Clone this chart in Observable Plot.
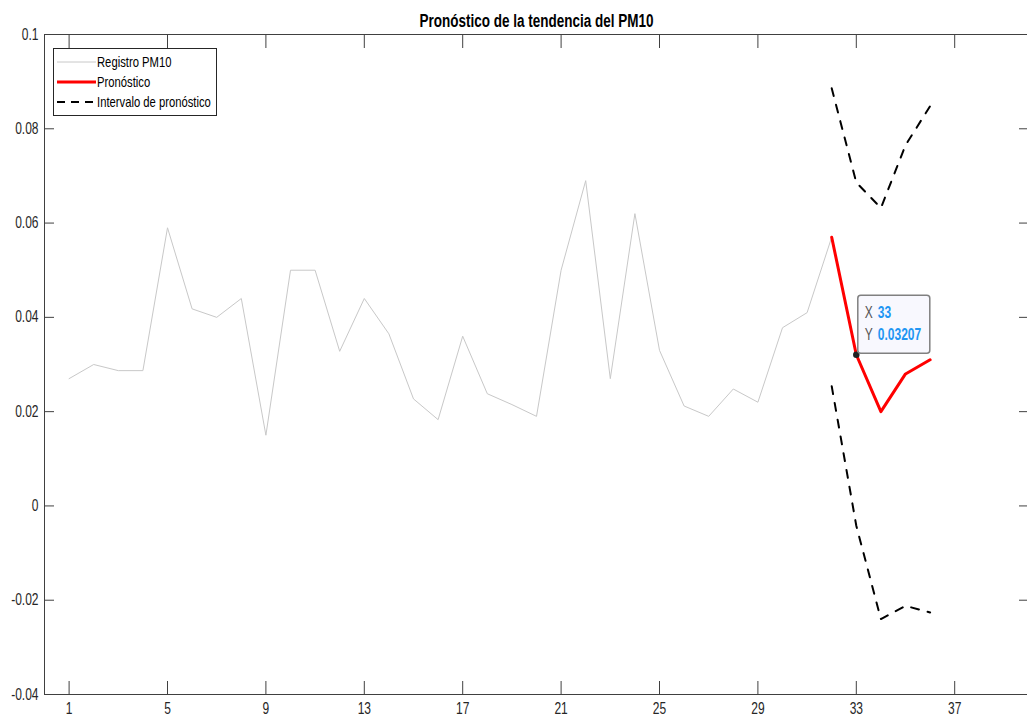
<!DOCTYPE html>
<html>
<head>
<meta charset="utf-8">
<script src="https://cdn.jsdelivr.net/npm/d3@7"></script>
<script src="https://cdn.jsdelivr.net/npm/@observablehq/plot@0.6"></script>
<style>
  html, body { margin: 0; padding: 0; background: #fff; }
  #chart { position: relative; width: 1027px; height: 720px; overflow: hidden; }
</style>
</head>
<body>
<div id="chart"></div>
<script>
const FONT = '"Liberation Sans", Arial, sans-serif';
const SQUEEZE = 0.75; // the reference text is horizontally condensed

const title = "Pronóstico de la tendencia del PM10";
const seriesNames = ["Registro PM10", "Pronóstico", "Intervalo de pronóstico"];

const xTicks = [1, 5, 9, 13, 17, 21, 25, 29, 33, 37];
const yTicks = [-0.04, -0.02, 0, 0.02, 0.04, 0.06, 0.08, 0.1];
const yTickLabels = ["-0.04", "-0.02", "0", "0.02", "0.04", "0.06", "0.08", "0.1"];

// Registro PM10, x = 1..32
const registroX = [1,2,3,4,5,6,7,8,9,10,11,12,13,14,15,16,17,18,19,20,21,22,23,24,25,26,27,28,29,30,31,32];
const registro = [0.0270, 0.0300, 0.0287, 0.0287, 0.0590, 0.0418, 0.0400, 0.0440, 0.0150, 0.0500,
                  0.0500, 0.0328, 0.0440, 0.0365, 0.0227, 0.0183, 0.0360, 0.0238, 0.0215, 0.0190,
                  0.0500, 0.0690, 0.0270, 0.0620, 0.0330, 0.0212, 0.0190, 0.0248, 0.0220, 0.0378,
                  0.0410, 0.0570];

// Pronóstico and interval, x = 32..36
const pronosticoX = [32, 33, 34, 35, 36];
const pronostico = [0.0570, 0.03207, 0.0200, 0.0280, 0.0310];
const superior = [0.0886, 0.0686, 0.0632, 0.0765, 0.0848];
const inferior = [0.0254, -0.0042, -0.0240, -0.0212, -0.0226];

// data tip
const tipX = 33;
const tipY = 0.03207;
const tipLabels = ["X", "Y"];

const regData = registroX.map((x, i) => ({x, y: registro[i]}));
const proData = pronosticoX.map((x, i) => ({x, y: pronostico[i]}));
const supData = pronosticoX.map((x, i) => ({x, y: superior[i]}));
const infData = pronosticoX.map((x, i) => ({x, y: inferior[i]}));

const yLabel = d => {
  const i = yTicks.findIndex(t => Math.abs(t - d) < 1e-9);
  return i >= 0 ? yTickLabels[i] : "";
};

const AX = "#404040";
const TXT = "#262626";

const plot = Plot.plot({
  width: 1027,
  height: 720,
  marginLeft: 44,
  marginRight: -1,
  marginTop: 34,
  marginBottom: 26,
  x: {domain: [0, 40]},
  y: {domain: [-0.04, 0.1]},
  style: {fontFamily: FONT, fontSize: "16px", color: TXT, background: "white", overflow: "visible"},
  marks: [
    Plot.frame({stroke: AX, strokeWidth: 1}),
    Plot.axisX({anchor: "bottom", ticks: xTicks, tickSize: -13, tickFormat: () => "", stroke: AX, label: null}),
    Plot.axisX({anchor: "top", ticks: xTicks, tickSize: -13, tickFormat: () => "", stroke: AX, label: null}),
    Plot.axisX({anchor: "bottom", ticks: xTicks, tickSize: 0, tickPadding: 8, tickFormat: d => String(d), fill: TXT, label: null}),
    Plot.axisY({anchor: "left", ticks: yTicks, tickSize: -10, tickFormat: () => "", stroke: AX, label: null}),
    Plot.axisY({anchor: "right", ticks: yTicks, tickSize: -10, tickFormat: () => "", stroke: AX, label: null}),
    Plot.axisY({anchor: "left", ticks: yTicks, tickSize: 0, tickPadding: 6, tickFormat: yLabel, fill: TXT, label: null}),
    Plot.line(regData, {x: "x", y: "y", stroke: "#c8c8c8", strokeWidth: 1}),
    Plot.line(supData, {x: "x", y: "y", stroke: "#000", strokeWidth: 2, strokeDasharray: "8,9"}),
    Plot.line(infData, {x: "x", y: "y", stroke: "#000", strokeWidth: 2, strokeDasharray: "8,9"}),
    Plot.line(proData, {x: "x", y: "y", stroke: "#ff0000", strokeWidth: 3}),
    Plot.dot([{x: tipX, y: tipY}], {x: "x", y: "y", r: 2.5, fill: "#222", stroke: "#222"}),
    Plot.text([title], {frameAnchor: "top", dy: -8, lineAnchor: "bottom", fontWeight: "bold", fontSize: 18, fill: "#000"})
  ]
});

document.getElementById("chart").appendChild(plot);

const svg = d3.select(plot);
const sx = plot.scale("x"), sy = plot.scale("y");

// Legend
const lg = svg.append("g").attr("font-family", FONT).attr("font-size", 15).attr("text-anchor", "start");
lg.append("rect").attr("x", 53.5).attr("y", 48.5).attr("width", 163).attr("height", 67)
  .attr("fill", "#fff").attr("stroke", TXT).attr("stroke-width", 1);
const legendStyles = [
  {stroke: "#c8c8c8", w: 1, dash: null},
  {stroke: "#ff0000", w: 3, dash: null},
  {stroke: "#000", w: 2, dash: "8,6"}
];
const legendY = [62, 82, 102];
seriesNames.forEach((name, i) => {
  const s = legendStyles[i];
  lg.append("line").attr("x1", 57).attr("x2", 96).attr("y1", legendY[i]).attr("y2", legendY[i])
    .attr("stroke", s.stroke).attr("stroke-width", s.w).attr("stroke-dasharray", s.dash);
  lg.append("text").attr("x", 97).attr("y", legendY[i]).attr("dy", "0.35em").attr("fill", "#000").text(name);
});

// Data tip
const px = sx.apply(tipX), py = sy.apply(tipY);
const tg = svg.append("g").attr("font-family", FONT).attr("font-size", 16).attr("text-anchor", "start");
tg.append("rect").attr("x", px + 2).attr("y", py - 59).attr("width", 72).attr("height", 58).attr("rx", 3)
  .attr("fill", "#f8f8fe").attr("stroke", "#808080").attr("stroke-width", 1.5);
const tipValues = [String(tipX), String(tipY)];
[py - 36, py - 14].forEach((ty, i) => {
  tg.append("text").attr("x", px + 9).attr("y", ty).attr("fill", "#555").text(tipLabels[i]);
  tg.append("text").attr("x", px + 22).attr("y", ty).attr("fill", "#2196f3").attr("font-weight", "bold").text(tipValues[i]);
});

// Condense all text horizontally to match the reference's narrow lettering
svg.selectAll("text").each(function() {
  const L = this.getComputedTextLength();
  if (L > 0) {
    this.setAttribute("textLength", (L * SQUEEZE).toFixed(2));
    this.setAttribute("lengthAdjust", "spacingAndGlyphs");
  }
});
</script>
</body>
</html>
